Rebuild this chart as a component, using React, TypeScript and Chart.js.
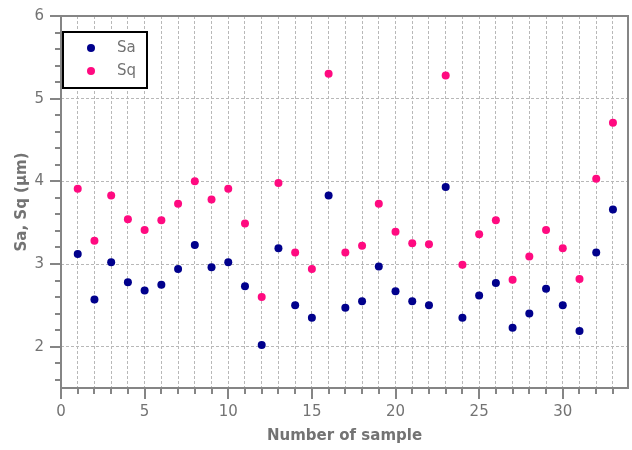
import React, { useEffect, useRef } from 'react';
import { Chart, registerables } from 'chart.js';

Chart.register(...registerables);

const sampleNumbers = [1, 2, 3, 4, 5, 6, 7, 8, 9, 10, 11, 12, 13, 14, 15, 16, 17, 18, 19, 20, 21, 22, 23, 24, 25, 26, 27, 28, 29, 30, 31, 32, 33];
const saValues = [3.12, 2.57, 3.02, 2.78, 2.68, 2.75, 2.94, 3.23, 2.96, 3.02, 2.73, 2.02, 3.19, 2.50, 2.35, 3.83, 2.47, 2.55, 2.97, 2.67, 2.55, 2.50, 3.93, 2.35, 2.62, 2.77, 2.23, 2.40, 2.70, 2.50, 2.19, 3.14, 3.66];
const sqValues = [3.91, 3.28, 3.83, 3.54, 3.41, 3.53, 3.73, 4.00, 3.78, 3.91, 3.49, 2.60, 3.98, 3.14, 2.94, 5.30, 3.14, 3.22, 3.73, 3.39, 3.25, 3.24, 5.28, 2.99, 3.36, 3.53, 2.81, 3.09, 3.41, 3.19, 2.82, 4.03, 4.71];
const xLabeledTicks = [0, 5, 10, 15, 20, 25, 30];
const yLabeledTicks = [2, 3, 4, 5, 6];
const xMin = 0;
const xMax = 33.9;
const yMin = 1.5;
const yMax = 6;

const SA_COLOR = '#00008C';
const SQ_COLOR = '#FF0A80';
const AXIS_COLOR = '#858585';
const GRID_COLOR = '#b8b8b8';
const TEXT_COLOR = '#737373';
const FONT = 'DejaVu Sans';

export default function App() {
  const ref = useRef<HTMLCanvasElement>(null);

  useEffect(() => {
    document.body.style.margin = '0';
    const canvas = ref.current;
    if (!canvas) return;

    const framePlugin = {
      id: 'frameAndTicks',
      afterDraw(chart: any) {
        const { ctx, chartArea: a, scales } = chart;
        const xs = scales.x;
        const ys = scales.y;
        ctx.save();
        ctx.strokeStyle = AXIS_COLOR;
        ctx.lineWidth = 2;
        ctx.setLineDash([]);
        // x ticks (major every 5, minor every 1)
        for (let v = 0; v <= 33; v++) {
          const px = Math.round(xs.getPixelForValue(v));
          const len = v % 5 === 0 ? 11 : 6;
          ctx.beginPath();
          ctx.moveTo(px, a.bottom);
          ctx.lineTo(px, a.bottom + len);
          ctx.stroke();
        }
        // y ticks (major every 1, minor every 0.2)
        for (let k = 8; k <= 30; k++) {
          const v = k / 5;
          const py = Math.round(ys.getPixelForValue(v));
          const len = k % 5 === 0 ? 11 : 6;
          ctx.beginPath();
          ctx.moveTo(a.left, py);
          ctx.lineTo(a.left - len, py);
          ctx.stroke();
        }
        // frame
        ctx.strokeRect(a.left, a.top, a.right - a.left, a.bottom - a.top);

        // legend box
        const bx = a.left + 2;
        const by = a.top + 16;
        const bw = 84;
        const bh = 56;
        ctx.fillStyle = '#ffffff';
        ctx.fillRect(bx, by, bw, bh);
        ctx.strokeStyle = '#000000';
        ctx.lineWidth = 2;
        ctx.strokeRect(bx, by, bw, bh);
        ctx.font = `15px "${FONT}"`;
        ctx.textBaseline = 'middle';
        ctx.textAlign = 'left';
        chart.data.datasets.forEach((ds: any, i: number) => {
          const cy = by + 16 + i * 23;
          ctx.beginPath();
          ctx.fillStyle = ds.backgroundColor;
          ctx.arc(bx + 28, cy, 4, 0, Math.PI * 2);
          ctx.fill();
          ctx.fillStyle = TEXT_COLOR;
          ctx.fillText(ds.label, bx + 54, cy);
        });
        ctx.restore();
      },
    };

    const chart = new Chart(canvas, {
      type: 'scatter',
      data: {
        datasets: [
          {
            label: 'Sa',
            data: sampleNumbers.map((n, i) => ({ x: n, y: saValues[i] })),
            backgroundColor: SA_COLOR,
            borderColor: SA_COLOR,
            pointRadius: 4,
            pointBorderWidth: 0,
          },
          {
            label: 'Sq',
            data: sampleNumbers.map((n, i) => ({ x: n, y: sqValues[i] })),
            backgroundColor: SQ_COLOR,
            borderColor: SQ_COLOR,
            pointRadius: 4,
            pointBorderWidth: 0,
          },
        ],
      },
      options: {
        animation: false,
        responsive: false,
        devicePixelRatio: 1,
        layout: { padding: { left: 0, right: 4, top: 16, bottom: 0 } },
        plugins: {
          legend: { display: false },
          tooltip: { enabled: false },
        },
        scales: {
          x: {
            type: 'linear',
            min: xMin,
            max: xMax,
            afterBuildTicks: (s: any) => {
              s.ticks = [0, ...sampleNumbers].map((v) => ({ value: v }));
            },
            afterFit: (s: any) => {
              s.height = 62;
              s.paddingLeft = 0;
              s.paddingRight = 0;
            },
            ticks: {
              autoSkip: false,
              maxRotation: 0,
              padding: 15,
              color: TEXT_COLOR,
              font: { family: FONT, size: 15 },
              callback: (v: any) => (xLabeledTicks.includes(Number(v)) ? String(v) : ''),
            },
            grid: {
              drawTicks: false,
              lineWidth: 1,
              color: (c: any) => (c.tick && c.tick.value === 0 ? 'rgba(0,0,0,0)' : GRID_COLOR),
            },
            border: { display: false, dash: [3, 2] },
            title: {
              display: true,
              text: 'Number of sample',
              color: TEXT_COLOR,
              font: { family: FONT, size: 15, weight: 'bold' },
              padding: { top: 0, bottom: 5 },
            },
          },
          y: {
            type: 'linear',
            min: yMin,
            max: yMax,
            afterBuildTicks: (s: any) => {
              s.ticks = yLabeledTicks.map((v) => ({ value: v }));
            },
            afterFit: (s: any) => {
              s.width = 61;
              s.paddingTop = 0;
              s.paddingBottom = 0;
            },
            ticks: {
              padding: 17,
              color: TEXT_COLOR,
              font: { family: FONT, size: 15 },
              callback: (v: any) => String(v),
            },
            grid: {
              drawTicks: false,
              lineWidth: 1,
              color: (c: any) => (c.tick && c.tick.value === yMax ? 'rgba(0,0,0,0)' : GRID_COLOR),
            },
            border: { display: false, dash: [3, 2] },
            title: {
              display: true,
              text: 'Sa, Sq (µm)',
              color: TEXT_COLOR,
              font: { family: FONT, size: 15, weight: 'bold' },
              padding: { top: 13, bottom: 0 },
            },
          },
        },
      },
      plugins: [framePlugin],
    } as any);

    return () => chart.destroy();
  }, []);

  return <canvas ref={ref} width={632} height={450} style={{ display: 'block' }} />;
}
